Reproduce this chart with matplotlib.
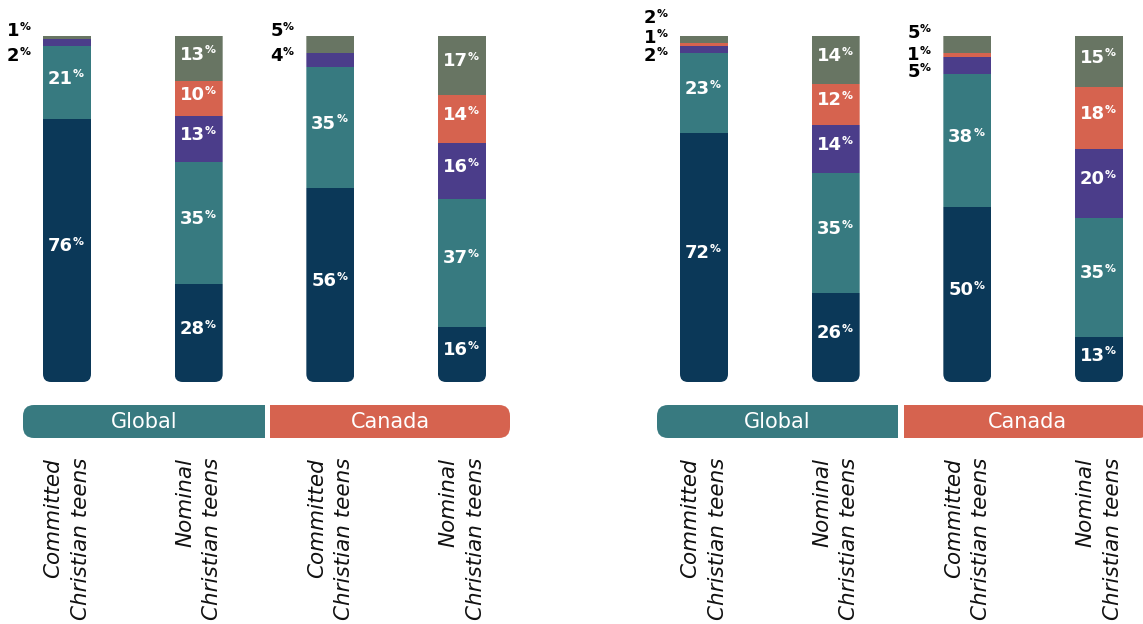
import numpy as np
import matplotlib.pyplot as plt
from matplotlib.patches import Rectangle, FancyBboxPatch

plt.rcParams['font.family'] = ['DejaVu Sans']

# stacked segments, bottom to top
segments = ['seg_navy', 'seg_teal', 'seg_purple', 'seg_orange', 'seg_grey']
colors = ['#0b3858', '#377a80', '#4b3d8a', '#d6634f', '#687563']
bar_labels = ['Committed\nChristian teens', 'Nominal\nChristian teens',
              'Committed\nChristian teens', 'Nominal\nChristian teens']
groups = ['Global', 'Canada']
group_colors = ['#387a80', '#d6634f']

left_global_committed = [76, 21, 2, 0, 1]
left_global_nominal = [28, 35, 13, 10, 13]
left_canada_committed = [56, 35, 4, 0, 5]
left_canada_nominal = [16, 37, 16, 14, 17]

right_global_committed = [72, 23, 2, 1, 2]
right_global_nominal = [26, 35, 14, 12, 14]
right_canada_committed = [50, 38, 5, 1, 5]
right_canada_nominal = [13, 35, 20, 18, 15]

panels = [
    [left_global_committed, left_global_nominal, left_canada_committed, left_canada_nominal],
    [right_global_committed, right_global_nominal, right_canada_committed, right_canada_nominal],
]

# layout (pixels)
W, H = 1143, 624
SP = 131.67            # px between bar centres
PXU = 3.46             # px per percent
Y0 = 382               # px of bar bottom
first_bar = [67, 704]
panel_px = [(0, 530), (636, 1143)]
band_px = [[(23, 265), (270, 510)], [(657, 898), (904, 1150)]]
# y pixel positions of small labels set outside the bar, by segment index
outside_y = [
    {0: {4: 31, 2: 56}, 2: {4: 31, 2: 56}},
    {0: {4: 18, 3: 38, 2: 56}, 2: {4: 33, 3: 55, 2: 72}},
]


def ydat(px):
    return (Y0 - px) / PXU


def pct(ax, x, y, v, color, size, dx):
    ax.annotate(str(v), (x, y), xytext=(dx, 0), textcoords='offset points',
                ha='right', va='center', color=color, fontsize=size,
                fontweight='bold', annotation_clip=False)
    ax.annotate('%', (x, y), xytext=(dx + 0.2, 3.0), textcoords='offset points',
                ha='left', va='center', color=color, fontsize=size * 0.6,
                fontweight='bold', annotation_clip=False)


fig = plt.figure(figsize=(W / 100, H / 100), dpi=100)
bw = 48 / SP

for p, bars in enumerate(panels):
    x0, x1 = panel_px[p]
    c0 = first_bar[p]
    ax = fig.add_axes([x0 / W, 0, (x1 - x0) / W, 1])
    ax.set_xlim((x0 - c0) / SP, (x1 - c0) / SP)
    ax.set_ylim(ydat(H), ydat(0))
    ax.axis('off')

    for i, vals in enumerate(bars):
        vals = np.array(vals, dtype=float)
        heights = vals / vals.sum() * 100
        clip = FancyBboxPatch((i - bw / 2, 0), bw, 120,
                              boxstyle='round,pad=0,rounding_size=%f' % (8 / SP),
                              mutation_aspect=SP / PXU, transform=ax.transData)
        bottom = 0
        for k, h in enumerate(heights):
            if h > 0:
                rects = ax.bar(i, h, bottom=bottom, width=bw, color=colors[k], linewidth=0)
                for r in rects:
                    r.set_clip_path(clip)
                v = int(bars[i][k])
                if v > 5:
                    pct(ax, i, bottom + h / 2 + 1.2, v, 'white', 13, 4.2)
                elif i in outside_y[p] and k in outside_y[p][i]:
                    pct(ax, i - bw / 2, ydat(outside_y[p][i][k]), v, 'black', 13, -17)
            bottom += h

        ax.text(i, ydat(458), bar_labels[i], rotation=90, ha='center', va='top',
                multialignment='right', fontsize=15.5, style='italic',
                linespacing=1.45, color='#111111')

    # group bands
    for g in range(2):
        bx0, bx1 = [(v - c0) / SP for v in band_px[p][g]]
        by0, by1 = ydat(438), ydat(405)
        band = FancyBboxPatch((bx0, by0), bx1 - bx0, by1 - by0,
                              boxstyle='round,pad=0,rounding_size=%f' % (11 / SP),
                              mutation_aspect=SP / PXU, color=group_colors[g],
                              linewidth=0, clip_on=False)
        ax.add_patch(band)
        # square off the inner ends
        if g == 0:
            ax.add_patch(Rectangle((bx1 - 0.3, by0), 0.3, by1 - by0,
                                   color=group_colors[g], linewidth=0, clip_on=False))
        else:
            ax.add_patch(Rectangle((bx0, by0), 0.3, by1 - by0,
                                   color=group_colors[g], linewidth=0, clip_on=False))
        ax.text((bx0 + bx1) / 2, (by0 + by1) / 2, groups[g], ha='center', va='center',
                color='white', fontsize=15)

fig.savefig('out.png', dpi=100)
